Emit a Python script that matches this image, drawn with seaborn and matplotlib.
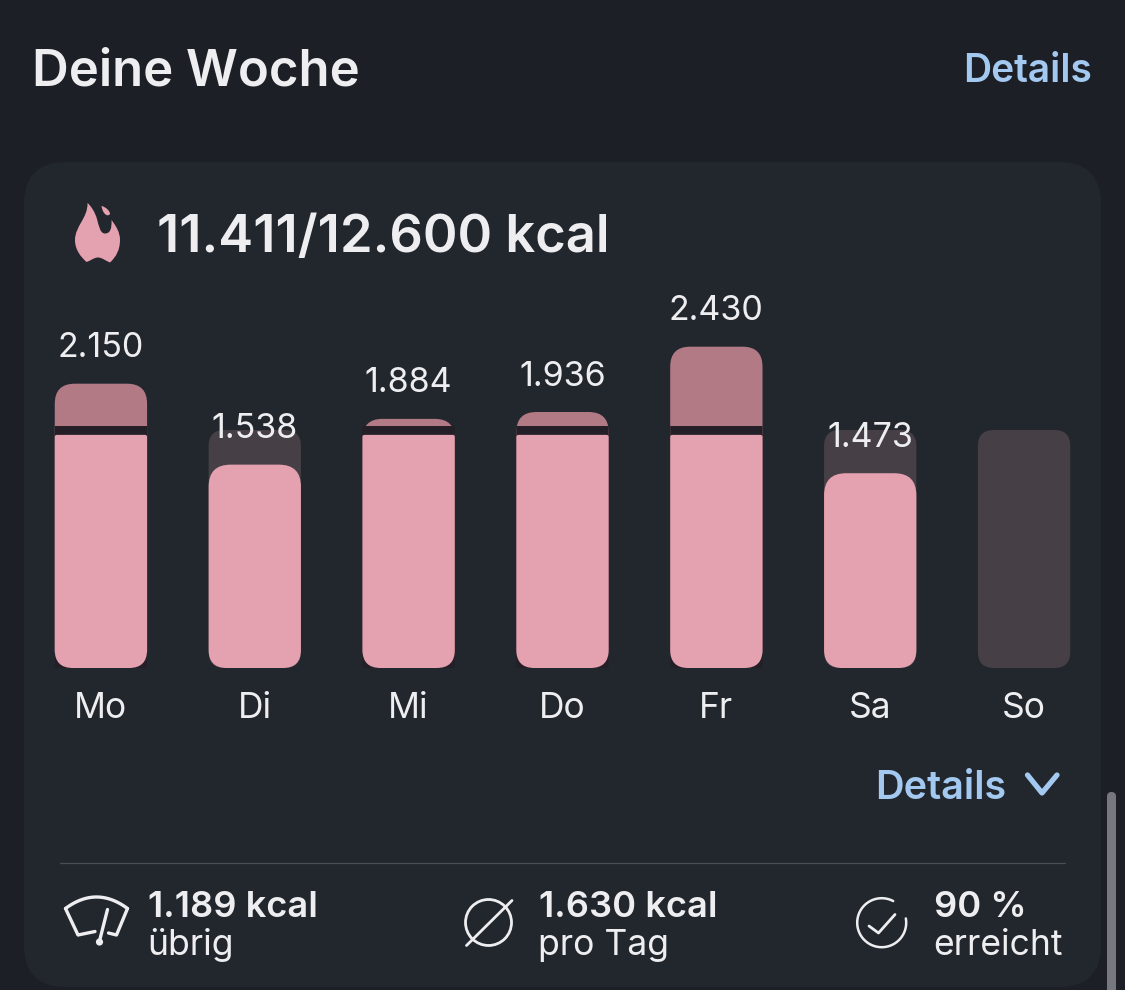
import numpy as np
import seaborn as sns
import matplotlib.pyplot as plt
from matplotlib.patches import Circle, FancyBboxPatch, PathPatch
from matplotlib.path import Path

# Data
days = ['Mo', 'Di', 'Mi', 'Do', 'Fr', 'Sa', 'So']
kcal = [2150, 1538, 1884, 1936, 2430, 1473, 0]
kcal_labels = ['2.150', '1.538', '1.884', '1.936', '2.430', '1.473', '']
daily_goal = [1800, 1800, 1800, 1800, 1800, 1800, 1800]
gap_top = 1830
pink_cap = 1763
stats_top = ['1.189 kcal', '1.630 kcal', '90 %']
stats_bottom = ['übrig', 'pro Tag', 'erreicht']

# Colours
PAGE = '#1c2026'
CARD = '#22272e'
TRACK = '#463f46'
PINK = '#e4a1af'
DIM = '#b27a85'
GAP = '#241f27'
BLUE = '#a3c9f1'
TEXT = '#eeeef0'
W, H = 1125, 990

sns.set_style('white')
plt.rcParams['font.family'] = ['Inter', 'DejaVu Sans']

fig = plt.figure(figsize=(W / 100, H / 100), dpi=100, facecolor=PAGE)

# Overlay in pixel coordinates for the card, texts and icons
bg = fig.add_axes([0, 0, 1, 1], zorder=0)
bg.set_xlim(0, W)
bg.set_ylim(H, 0)
bg.axis('off')

bg.add_patch(FancyBboxPatch((24, 162), 1077, 825, boxstyle='round,pad=0,rounding_size=42',
                            fc=CARD, ec='none'))
bg.add_patch(FancyBboxPatch((1107, 792), 9, 260, boxstyle='round,pad=0,rounding_size=4.5',
                            fc='#77787d', ec='none', clip_on=True))

bg.text(32, 86, 'Deine Woche', color=TEXT, fontsize=36.6, fontweight='semibold', va='baseline')
bg.text(1092, 82, 'Details', color=BLUE, fontsize=28, fontweight='semibold', va='baseline', ha='right')
bg.text(157, 252, '11.411/12.600 kcal', color=TEXT, fontsize=37.8, fontweight='semibold', va='baseline')
bg.text(1006, 799, 'Details', color=BLUE, fontsize=28.5, fontweight='semibold', va='baseline', ha='right')
bg.plot([1027.5, 1042, 1057], [775, 793, 775], color=BLUE, lw=3.8, solid_capstyle='round', solid_joinstyle='round')
bg.plot([60, 1065], [863, 863], color='#4a4e54', lw=0.9)

for x, top, bottom in zip([148, 539, 934], stats_top, stats_bottom):
    bg.text(x, 917, top, color=TEXT, fontsize=26.1, fontweight='semibold', va='baseline')
    bg.text(x - 1, 955, bottom, color=TEXT, fontsize=25.6, va='baseline')

# Flame icon
flame = Path(
    [(87.5, 203), (88, 218), (75, 226), (75, 240), (75, 250), (81, 257), (86.5, 262),
     (90, 261), (94, 257.5), (98, 257.5), (102, 257.5), (106, 261), (110, 262.5),
     (116, 257), (120, 250), (120, 240), (120, 232), (116, 226), (111.5, 220),
     (112, 229), (110, 233.5), (105, 233.5), (100, 233.5), (99, 226), (97, 219),
     (95, 212), (91, 206), (87.5, 203)],
    [Path.MOVETO] + [Path.CURVE4] * 27)
bg.add_patch(PathPatch(flame, fc=PINK, ec='none'))
drop = Path(
    [(101.5, 206), (106, 207), (110, 211), (110, 214), (108, 217), (103, 215), (101.5, 206)],
    [Path.MOVETO] + [Path.CURVE4] * 6)
bg.add_patch(PathPatch(drop, fc=PINK, ec='none'))

# Wiper icon
t = np.linspace(-1, 1, 30)
bg.plot(96.5 + 31 * t, 897 + 11.5 * t ** 2, color=TEXT, lw=2.4, solid_capstyle='round')
bg.plot([65.5, 78, 95], [908.5, 935, 931.5], color=TEXT, lw=2.4, solid_joinstyle='round', solid_capstyle='round')
bg.plot([127.5, 116.5, 108.5], [908.5, 935, 933], color=TEXT, lw=2.4, solid_joinstyle='round', solid_capstyle='round')
bg.plot([99.5, 107.5], [941, 909.5], color=TEXT, lw=2.4, solid_capstyle='round')
bg.add_patch(Circle((99.5, 942), 3.6, fc=TEXT, ec='none'))

# Average icon
bg.add_patch(Circle((488.5, 922.5), 23, fc='none', ec=TEXT, lw=2))
bg.plot([466.5, 512], [945.5, 900.5], color=TEXT, lw=2, solid_capstyle='round')

# Check icon
a = np.radians(np.linspace(-10, 298, 80))
bg.plot(881.7 + 24.5 * np.cos(a), 922.7 + 24.5 * np.sin(a), color=TEXT, lw=1.8, solid_capstyle='round')
bg.plot([869, 878.5, 895], [926, 933, 914.5], color=TEXT, lw=2, solid_capstyle='round', solid_joinstyle='round')

# Chart axes: one category step is 153.9 px, 1800 kcal are 238 px
ax = fig.add_axes([24 / W, 1 - 668 / H, 1077 / W, (668 - 271.3) / H], zorder=1)
ax.patch.set_alpha(0)
KX = 1 / 153.9
KY = 1800 / 238


def rounded(x0, x1, y0, y1, r_top, r_bottom):
    rtx, rty = r_top * KX, r_top * KY
    rbx, rby = r_bottom * KX, r_bottom * KY
    verts = [(x0 + rbx, y0), (x1 - rbx, y0), (x1, y0), (x1, y0 + rby), (x1, y1 - rty), (x1, y1),
             (x1 - rtx, y1), (x0 + rtx, y1), (x0, y1), (x0, y1 - rty), (x0, y0 + rby), (x0, y0),
             (x0 + rbx, y0), (x0 + rbx, y0)]
    codes = [Path.MOVETO, Path.LINETO, Path.CURVE3, Path.CURVE3, Path.LINETO, Path.CURVE3, Path.CURVE3,
             Path.LINETO, Path.CURVE3, Path.CURVE3, Path.LINETO, Path.CURVE3, Path.CURVE3, Path.CLOSEPOLY]
    return Path(verts, codes)


def draw_bars(values, color, r_top, r_bottom):
    # let seaborn place the bars, then swap each for a rounded one
    start = len(ax.patches)
    sns.barplot(x=days, y=values, color=color, saturation=1, width=0.6, ax=ax)
    for bar, val in zip(list(ax.patches[start:]), values):
        x0, w, h = bar.get_x(), bar.get_width(), bar.get_height()
        bar.remove()
        if val > 0:
            rt = r_top(val) if callable(r_top) else r_top
            ax.add_patch(PathPatch(rounded(x0, x0 + w, 0, h, rt, r_bottom), fc=color, ec='none'))


over = [v if v > goal else 0 for v, goal in zip(kcal, daily_goal)]
gap = [gap_top if v > goal else 0 for v, goal in zip(kcal, daily_goal)]
pink = [min(v, pink_cap) for v in kcal]

draw_bars(daily_goal, TRACK, 16, 16)
draw_bars(over, DIM, 20, 18)
draw_bars(gap, GAP, 0, 0)
draw_bars(pink, PINK, lambda v: 2 if v == pink_cap else 22, 18)

for i, label in enumerate(kcal_labels):
    if label:
        ax.annotate(label, (i, kcal[i]), xytext=(0, 25.5), textcoords='offset points',
                    ha='center', va='center', color=TEXT, fontsize=24.5, zorder=5)

ax.set_xlim(-0.5, 6.5)
ax.set_ylim(0, 3000)
ax.set_yticks([])
ax.tick_params(axis='x', length=0, pad=17.5, labelsize=25.5, labelcolor=TEXT)
sns.despine(ax=ax, left=True, bottom=True)

fig.savefig('out.png', dpi=100, facecolor=PAGE)
